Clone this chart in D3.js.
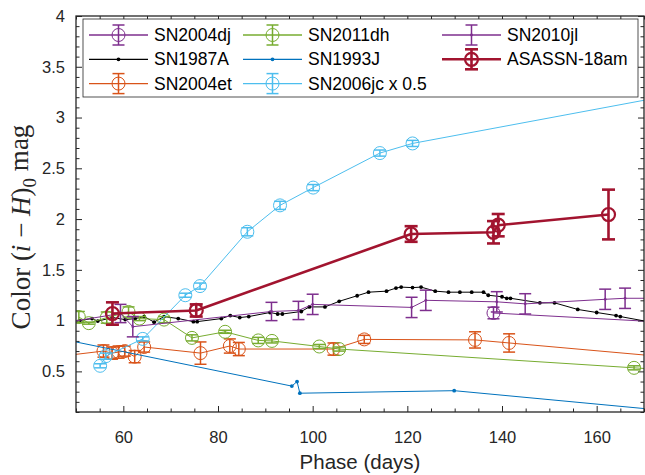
<!DOCTYPE html>
<html><head><meta charset="utf-8">
<script src="https://cdn.jsdelivr.net/npm/d3@7"></script>
<style>body{margin:0;background:#fff}svg{display:block}</style>
</head><body>
<script>
// ---------------- data ----------------
const xDomain = [50, 170];
const yDomain = [0.1, 4];
const xTicks = [60, 80, 100, 120, 140, 160];
const yTicks = [0.5, 1, 1.5, 2, 2.5, 3, 3.5, 4];

const sn2004djDays = [138.2, 200];
const sn2004djVals = [1.075, 0.92];
const sn2004djErr  = [0.057, 0.05];

const sn1987aDays = [50.7, 53.4, 54.6, 57.7, 60.4, 62.5, 64.4, 66.5, 68.6, 71.6, 74.8, 75.6, 80.7, 82.6, 84.6, 86.5, 91.0, 92.6, 93.6, 97.6, 99.3, 102.6, 105.6, 109.4, 111.8, 115.6, 117.6, 118.7, 121.1, 122.9, 125.9, 128.7, 131.1, 133.6, 136.1, 137.1, 140.0, 141.0, 141.8, 148.0, 151.1, 156.0, 160.0, 164.1, 165.0, 172.0];
const sn1987aVals = [1.0, 1.02, 0.995, 1.03, 1.01, 1.02, 1.04, 0.985, 1.04, 1.02, 0.99, 0.99, 1.02, 1.05, 1.03, 1.04, 1.08, 1.065, 1.065, 1.09, 1.135, 1.135, 1.19, 1.245, 1.28, 1.29, 1.32, 1.33, 1.325, 1.33, 1.29, 1.28, 1.28, 1.28, 1.28, 1.25, 1.235, 1.22, 1.22, 1.175, 1.175, 1.11, 1.08, 1.05, 1.04, 0.98];

const sn2004etDays = [45, 55.8, 57.6, 59.0, 60.3, 62.4, 64.4, 76.3, 82.5, 84.4, 104.4, 110.9, 134.3, 141.5, 180];
const sn2004etVals = [0.64, 0.70, 0.68, 0.69, 0.70, 0.645, 0.74, 0.68, 0.75, 0.72, 0.72, 0.815, 0.81, 0.78, 0.62];
const sn2004etErr  = [0.05, 0.06, 0.06, 0.06, 0.05, 0.06, 0.05, 0.11, 0.07, 0.065, 0.06, 0.04, 0.08, 0.09, 0.05];

const sn2011dhDays = [50.6, 52.7, 56.5, 61.1, 63.4, 68.6, 74.5, 81.5, 88.5, 91.4, 101.4, 105.6, 167.9, 180];
const sn2011dhVals = [1.035, 0.975, 1.03, 1.085, 1.02, 1.01, 0.83, 0.89, 0.805, 0.80, 0.745, 0.72, 0.535, 0.50];
const sn2011dhErr  = [0.055, 0.01, 0.055, 0.05, 0.02, 0.03, 0.03, 0.015, 0.03, 0.02, 0.02, 0.02, 0.02, 0.02];

const sn1993jDays = [40, 95.6, 96.7, 97.3, 129.9, 180];
const sn1993jVals = [0.885, 0.355, 0.40, 0.285, 0.31, 0.09];

const sn2006jcDays = [55.1, 56.3, 64.1, 73.1, 76.2, 86.2, 93.1, 100.1, 114.2, 121.1, 180];
const sn2006jcVals = [0.555, 0.65, 0.82, 1.25, 1.34, 1.875, 2.135, 2.31, 2.65, 2.745, 3.257];
const sn2006jcErr  = [0.02, 0.03, 0.02, 0.02, 0.03, 0.04, 0.04, 0.03, 0.03, 0.03, 0.03];

const sn2010jlDays = [45, 59.4, 62.0, 91.3, 97.0, 100.0, 120.9, 123.9, 138.9, 144.9, 161.8, 166.0, 180];
const sn2010jlVals = [0.96, 1.07, 0.94, 1.09, 1.10, 1.16, 1.13, 1.20, 1.185, 1.165, 1.21, 1.22, 1.22];
const sn2010jlErr  = [0.1, 0.09, 0.1, 0.09, 0.09, 0.1, 0.1, 0.1, 0.1, 0.1, 0.1, 0.1, 0.1];

const asassnDays = [57.7, 75.4, 120.8, 138.2, 139.2, 162.5];
const asassnVals = [1.07, 1.10, 1.853, 1.87, 1.94, 2.045];
const asassnErr  = [0.11, 0.06, 0.077, 0.11, 0.11, 0.245];

const seriesNames = ["SN2004dj", "SN1987A", "SN2004et", "SN2011dh", "SN1993J", "SN2006jc x 0.5", "SN2010jl", "ASASSN-18am"];
const seriesColors = ["#7E2F8E", "#000000", "#D95319", "#77AC30", "#0072BD", "#4DBEEE", "#7E2F8E", "#A2142F"];

// ---------------- build ----------------
const W = 645, H = 475;
const P = {l: 76, r: 644, t: 16, b: 412};
const x = d3.scaleLinear().domain(xDomain).range([P.l, P.r]);
const y = d3.scaleLinear().domain(yDomain).range([P.b, P.t]);
const axColor = "#262626";
const sans = "'Liberation Sans', Arial, Helvetica, sans-serif";

const zip = (d, v, e) => d.map((t, i) => ({x: t, y: v[i], e: e ? e[i] : null}));
const series = [
  {name: seriesNames[0], color: seriesColors[0], data: zip(sn2004djDays, sn2004djVals, sn2004djErr), marker: "circle", lw: 1, ew: 1.5},
  {name: seriesNames[1], color: seriesColors[1], data: zip(sn1987aDays, sn1987aVals), marker: "dot", lw: 1},
  {name: seriesNames[2], color: seriesColors[2], data: zip(sn2004etDays, sn2004etVals, sn2004etErr), marker: "circle", lw: 1, ew: 1.5},
  {name: seriesNames[3], color: seriesColors[3], data: zip(sn2011dhDays, sn2011dhVals, sn2011dhErr), marker: "circle", lw: 1, ew: 1.5},
  {name: seriesNames[4], color: seriesColors[4], data: zip(sn1993jDays, sn1993jVals), marker: "dot", lw: 1},
  {name: seriesNames[5], color: seriesColors[5], data: zip(sn2006jcDays, sn2006jcVals, sn2006jcErr), marker: "circle", lw: 1, ew: 1.5},
  {name: seriesNames[6], color: seriesColors[6], data: zip(sn2010jlDays, sn2010jlVals, sn2010jlErr), marker: "smalldot", lw: 1, ew: 1.5},
  {name: seriesNames[7], color: seriesColors[7], data: zip(asassnDays, asassnVals, asassnErr), marker: "circle", lw: 2.6, ew: 2.6, mw: 2.2, thick: true}
];

const svg = d3.select("body").append("svg").attr("width", W).attr("height", H)
  .style("background", "#fff");

svg.append("defs").append("clipPath").attr("id", "clip")
  .append("rect").attr("x", P.l).attr("y", P.t).attr("width", P.r - P.l).attr("height", P.b - P.t);

// axes ticks
function styleAxis(g, fs) {
  g.select(".domain").remove();
  g.selectAll("line").attr("stroke", axColor).attr("stroke-width", 1);
  g.selectAll("text").attr("fill", axColor).style("font-family", sans).style("font-size", fs + "px");
}
const xMinor = d3.range(50, 171, 5).filter(v => !xTicks.includes(v));
const yMinor = d3.range(1, 41).map(v => v / 10).filter(v => !yTicks.some(t => Math.abs(t - v) < 1e-9));
const MJ = 6, MN = 3.5, FS = 16.5;

svg.append("g").attr("transform", `translate(0,${P.b})`)
  .call(d3.axisBottom(x).tickValues(xTicks).tickSizeInner(-MJ).tickSizeOuter(0).tickPadding(19).tickFormat(d3.format("d")))
  .call(g => styleAxis(g, FS));
svg.append("g").attr("transform", `translate(0,${P.b})`)
  .call(d3.axisBottom(x).tickValues(xMinor).tickSizeInner(-MN).tickSizeOuter(0).tickFormat(""))
  .call(g => styleAxis(g, FS));
svg.append("g").attr("transform", `translate(0,${P.t})`)
  .call(d3.axisTop(x).tickValues(xTicks).tickSizeInner(-MJ).tickSizeOuter(0).tickFormat(""))
  .call(g => styleAxis(g, FS));
svg.append("g").attr("transform", `translate(0,${P.t})`)
  .call(d3.axisTop(x).tickValues(xMinor).tickSizeInner(-MN).tickSizeOuter(0).tickFormat(""))
  .call(g => styleAxis(g, FS));
svg.append("g").attr("transform", `translate(${P.l},0)`)
  .call(d3.axisLeft(y).tickValues(yTicks).tickSizeInner(-MJ).tickSizeOuter(0).tickPadding(11).tickFormat(d => String(d)))
  .call(g => styleAxis(g, FS));
svg.append("g").attr("transform", `translate(${P.l},0)`)
  .call(d3.axisLeft(y).tickValues(yMinor).tickSizeInner(-MN).tickSizeOuter(0).tickFormat(""))
  .call(g => styleAxis(g, FS));
svg.append("g").attr("transform", `translate(${P.r},0)`)
  .call(d3.axisRight(y).tickValues(yTicks).tickSizeInner(-MJ).tickSizeOuter(0).tickFormat(""))
  .call(g => styleAxis(g, FS));
svg.append("g").attr("transform", `translate(${P.r},0)`)
  .call(d3.axisRight(y).tickValues(yMinor).tickSizeInner(-MN).tickSizeOuter(0).tickFormat(""))
  .call(g => styleAxis(g, FS));

// data
const plot = svg.append("g").attr("clip-path", "url(#clip)");
const line = d3.line().x(d => x(d.x)).y(d => y(d.y));
const CAP = 12, R = 6.5;

function drawErr(g, cx, cy1, cy2, cw, color, w) {
  g.append("line").attr("x1", cx).attr("x2", cx).attr("y1", cy1).attr("y2", cy2).attr("stroke", color).attr("stroke-width", w);
  g.append("line").attr("x1", cx - cw / 2).attr("x2", cx + cw / 2).attr("y1", cy1).attr("y2", cy1).attr("stroke", color).attr("stroke-width", w);
  g.append("line").attr("x1", cx - cw / 2).attr("x2", cx + cw / 2).attr("y1", cy2).attr("y2", cy2).attr("stroke", color).attr("stroke-width", w);
}
function drawMarker(g, s, cx, cy) {
  if (s.marker === "circle") {
    g.append("circle").attr("cx", cx).attr("cy", cy).attr("r", R).attr("fill", "none")
      .attr("stroke", s.color).attr("stroke-width", s.mw || 1);
  } else if (s.marker === "dot") {
    g.append("circle").attr("cx", cx).attr("cy", cy).attr("r", 1.9).attr("fill", s.color);
  } else if (s.marker === "smalldot") {
    g.append("circle").attr("cx", cx).attr("cy", cy).attr("r", 1.4).attr("fill", s.color);
  }
}

series.forEach(s => {
  const g = plot.append("g");
  g.append("path").datum(s.data).attr("d", line).attr("fill", "none")
    .attr("stroke", s.color).attr("stroke-width", s.lw).attr("stroke-linejoin", "round");
  s.data.forEach(d => {
    if (d.e != null) drawErr(g, x(d.x), y(d.y - d.e), y(d.y + d.e), s.thick ? 13 : CAP, s.color, s.ew);
    drawMarker(g, s, x(d.x), y(d.y));
  });
});

// frame
svg.append("rect").attr("x", P.l).attr("y", P.t).attr("width", P.r - P.l).attr("height", P.b - P.t)
  .attr("fill", "none").attr("stroke", axColor).attr("stroke-width", 1.3);

// legend
const L = {x: 83, y: 19, w: 555, h: 78};
const lg = svg.append("g");
lg.append("rect").attr("x", L.x).attr("y", L.y).attr("width", L.w).attr("height", L.h)
  .attr("fill", "#fff").attr("stroke", axColor).attr("stroke-width", 0.8);
const colX = [89, 243, 442];
const rowY = [35, 59.3, 83.6];
const segLen = 59;
series.forEach((s, i) => {
  const c = Math.floor(i / 3), r = i % 3;
  const x0 = colX[c], yy = rowY[r], mx = x0 + segLen / 2;
  lg.append("line").attr("x1", x0).attr("x2", x0 + segLen).attr("y1", yy).attr("y2", yy)
    .attr("stroke", s.color).attr("stroke-width", s.thick ? 2.6 : 1.3);
  if (s.data[0].e != null) drawErr(lg, mx, yy - 10, yy + 10, s.thick ? 13 : CAP, s.color, s.thick ? 2.6 : 1.5);
  drawMarker(lg, s, mx, yy);
  lg.append("text").attr("x", x0 + segLen + 6).attr("y", yy).attr("dy", "0.35em")
    .attr("fill", "#000").style("font-family", sans).style("font-size", "17.5px").text(s.name);
});

// labels
svg.append("text").attr("x", (P.l + P.r) / 2).attr("y", 469).attr("text-anchor", "middle")
  .attr("fill", axColor).style("font-family", sans).style("font-size", "20.5px").text("Phase (days)");

const yl = svg.append("text").attr("transform", `translate(30,${(P.t + P.b) / 2 + 13}) rotate(-90)`)
  .attr("text-anchor", "middle").attr("fill", axColor)
  .style("font-family", "'Liberation Serif', 'DejaVu Serif', serif").style("font-size", "27px");
yl.append("tspan").text("Color (");
yl.append("tspan").style("font-style", "italic").text("i");
yl.append("tspan").text(" \u2212 ");
yl.append("tspan").style("font-style", "italic").text("H");
yl.append("tspan").text(")");
yl.append("tspan").attr("dy", "0.3em").style("font-size", "19px").text("0");
yl.append("tspan").attr("dy", "-0.3em").text(" mag");
</script>
</body></html>
